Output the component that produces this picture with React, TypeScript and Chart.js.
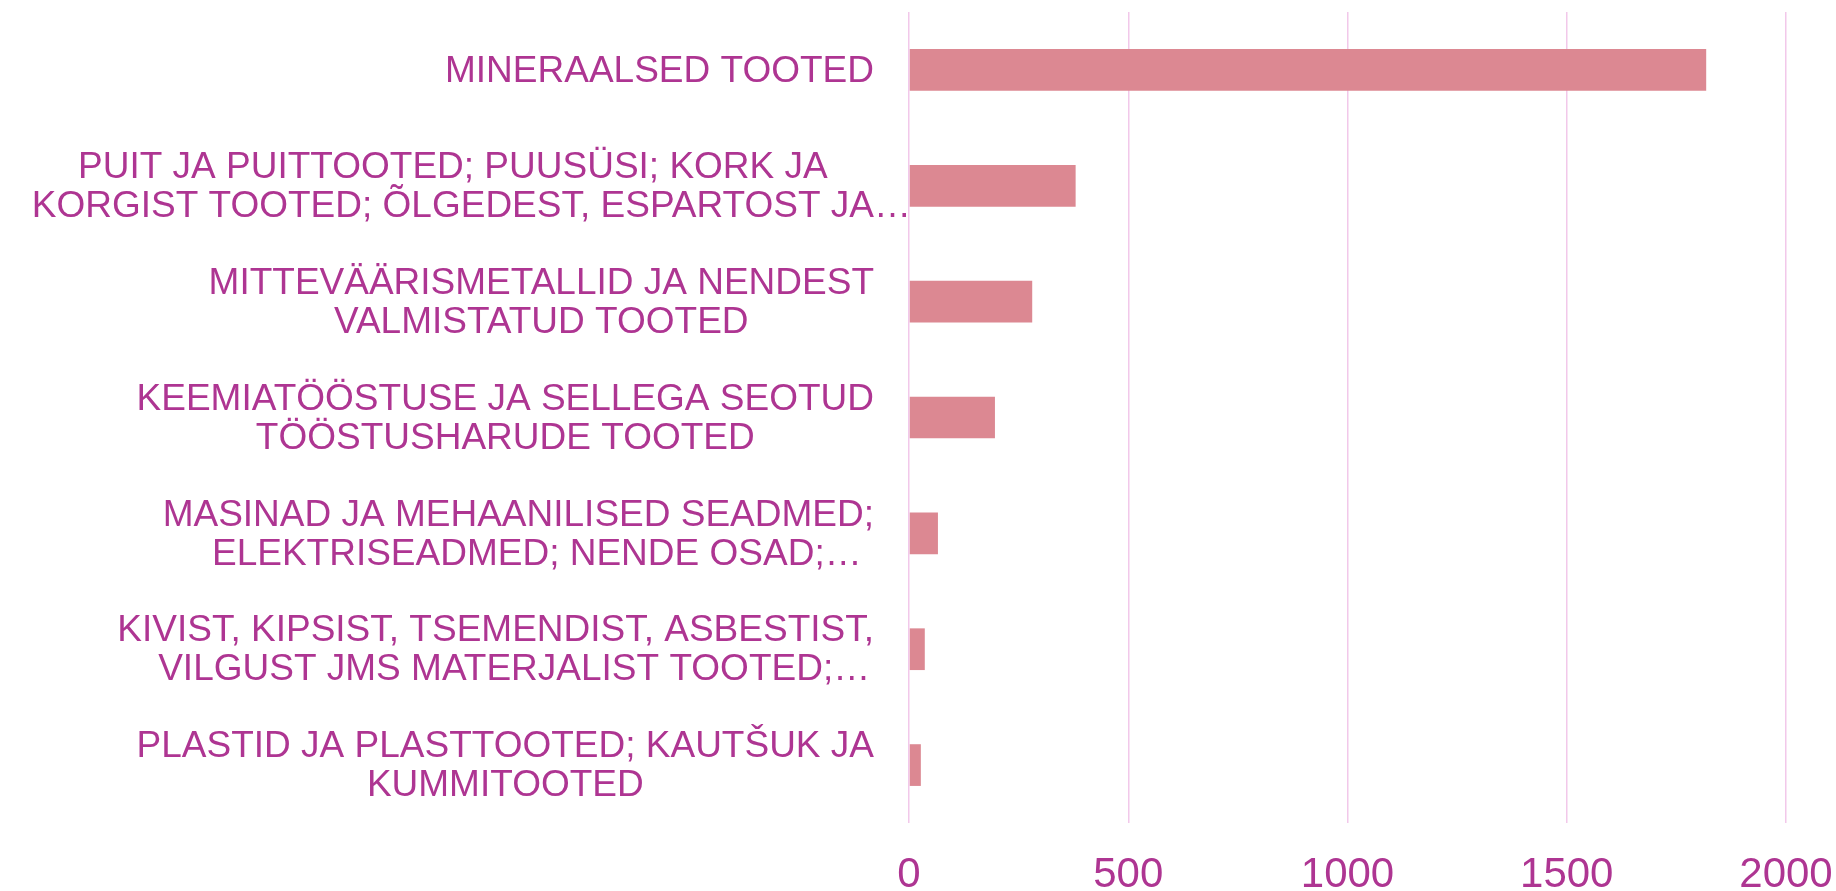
import React, { useEffect, useRef } from "react";
import { Chart, registerables } from "chart.js";

Chart.register(...registerables);

const categories: string[][] = [
  ["MINERAALSED TOOTED"],
  ["PUIT JA PUITTOOTED; PUUSÜSI; KORK JA", "KORGIST TOOTED; ÕLGEDEST, ESPARTOST JA…"],
  ["MITTEVÄÄRISMETALLID JA NENDEST", "VALMISTATUD TOOTED"],
  ["KEEMIATÖÖSTUSE JA SELLEGA SEOTUD", "TÖÖSTUSHARUDE TOOTED"],
  ["MASINAD JA MEHAANILISED SEADMED;", "ELEKTRISEADMED; NENDE OSAD;…"],
  ["KIVIST, KIPSIST, TSEMENDIST, ASBESTIST,", "VILGUST JMS MATERJALIST TOOTED;…"],
  ["PLASTID JA PLASTTOOTED; KAUTŠUK JA", "KUMMITOOTED"],
];

const values: number[] = [1818, 380, 281, 196, 66, 36, 27];

const xTicks: number[] = [0, 500, 1000, 1500, 2000];

const TEXT_COLOR = "#AE3592";
const BAR_COLOR = "#DC8892";
const GRID_COLOR = "#F2C8EA";
const FONT_FAMILY = "'Liberation Sans', Arial, sans-serif";

const yLabelPlugin = {
  id: "yLabelPlugin",
  afterDraw(chart: any) {
    const ctx = chart.ctx;
    const yScale = chart.scales.y;
    const area = chart.chartArea;
    const fontSize = 37;
    const lineGap = 39;
    ctx.save();
    ctx.font = `${fontSize}px ${FONT_FAMILY}`;
    ctx.fillStyle = TEXT_COLOR;
    ctx.textAlign = "left";
    ctx.textBaseline = "middle";
    const right = area.left - 35;
    categories.forEach((lines, i) => {
      const y = yScale.getPixelForValue(i);
      const widths = lines.map((l) => ctx.measureText(l.replace(/…$/, "")).width);
      const w = Math.max(...widths);
      const cx = right - w / 2;
      const startY = y - ((lines.length - 1) * lineGap) / 2 + 1.5;
      lines.forEach((l, j) => {
        ctx.fillText(l, cx - widths[j] / 2, startY + j * lineGap);
      });
    });
    ctx.restore();
  },
};

export default function App() {
  const canvasRef = useRef<HTMLCanvasElement | null>(null);

  useEffect(() => {
    if (!canvasRef.current) return;
    const chart = new Chart(canvasRef.current, {
      type: "bar",
      data: {
        labels: categories.map((c) => c.join(" ")),
        datasets: [
          {
            data: values,
            backgroundColor: BAR_COLOR,
            borderWidth: 0,
            categoryPercentage: 1,
            barPercentage: 0.36,
          },
        ],
      },
      options: {
        indexAxis: "y",
        animation: false,
        responsive: false,
        devicePixelRatio: 1,
        layout: { padding: { top: 12, right: 50, left: 0, bottom: 0 } },
        plugins: {
          legend: { display: false },
          tooltip: { enabled: false },
        },
        scales: {
          x: {
            min: 0,
            max: 2000,
            afterBuildTicks(scale: any) {
              scale.ticks = xTicks.map((v) => ({ value: v }));
            },
            afterFit(scale: any) {
              scale.height = 68;
            },
            grid: {
              color: GRID_COLOR,
              lineWidth: 1.5,
              drawTicks: false,
            },
            border: { display: false },
            ticks: {
              color: TEXT_COLOR,
              padding: 0,
              font: { family: FONT_FAMILY, size: 42, lineHeight: 104 / 42 },
              maxRotation: 0,
              callback: (v: any) => String(v),
            },
          },
          y: {
            grid: { display: false },
            border: { display: false },
            ticks: { display: false },
            afterFit(scale: any) {
              scale.width = 909;
            },
          },
        },
      },
      plugins: [yLabelPlugin],
    });
    return () => chart.destroy();
  }, []);

  return (
    <div style={{ position: "fixed", left: 0, top: 0, width: 1836, height: 891, background: "#fff" }}>
      <canvas ref={canvasRef} width={1836} height={891} style={{ display: "block" }} />
    </div>
  );
}
